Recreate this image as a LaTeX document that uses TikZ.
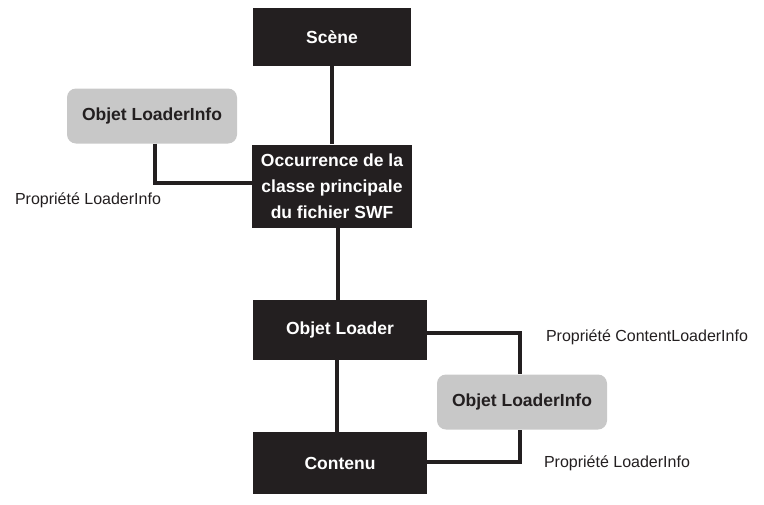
\documentclass[tikz,border=0pt]{standalone}
\usepackage{fontspec}
\setmainfont{Liberation Sans}
\usetikzlibrary{positioning}
\definecolor{boxdark}{HTML}{231F20}
\definecolor{boxgray}{HTML}{C8C8C8}
\begin{document}
\begin{tikzpicture}[x=1pt,y=-1pt,font=\fontsize{17.5}{26}\selectfont\bfseries]

        % Setup the styles
        \tikzset{dark box/.style={fill=boxdark, text=white, minimum height=58pt,
                                  align=center, inner sep=2pt},
                 info box/.style={fill=boxgray, text=boxdark, rounded corners=9pt,
                                  minimum width=170pt, minimum height=55pt},
                 link/.style={draw=boxdark, line width=4.5pt},
                 prop/.style={text=boxdark, font=\fontsize{16}{19}\selectfont}}

        \useasboundingbox (0,0) rectangle (764,504);

        % Draw the boxes
        \node[dark box, minimum width=158pt] at (332,37)  (scene) {Scène};
        \node[dark box, minimum width=160pt, minimum height=83pt] at (332,186) (occ)
              {Occurrence de la\\classe principale\\du fichier SWF};
        \node[dark box, minimum width=174pt, minimum height=60pt] at (340,330) (loader) {Objet Loader};
        \node[dark box, minimum width=174pt, minimum height=62pt] at (340,463) (contenu) {Contenu};
        \node[info box] at (152,116) (infoA) {Objet LoaderInfo};
        \node[info box] at (522,402) (infoB) {Objet LoaderInfo};

        % Corners and labels
        \coordinate (cA) at (155,183);
        \coordinate (cB) at (520,333);
        \coordinate (cC) at (520,462);
        \node[prop] at (88,200)  (propA) {Propriété LoaderInfo};
        \node[prop] at (647,337) (propB) {Propriété ContentLoaderInfo};
        \node[prop] at (617,463) (propC) {Propriété LoaderInfo};

        % Connect the boxes
        \draw[link] (scene) -- (occ);
        \draw[link] (occ.south -| 338,0) -- (loader.north -| 338,0);
        \draw[link] (loader.south -| 337,0) -- ++(0,6) (contenu.north -| 337,0) -- ++(0,-67);
        \draw[link] (infoA.south -| cA) -- (cA) -- (occ.west |- cA);
        \draw[link] (loader.east |- cB) -- (cB) -- (infoB.north -| cB);
        \draw[link] (contenu.east |- cC) -- (cC) -- (infoB.south -| cC);
\end{tikzpicture}
\end{document}
